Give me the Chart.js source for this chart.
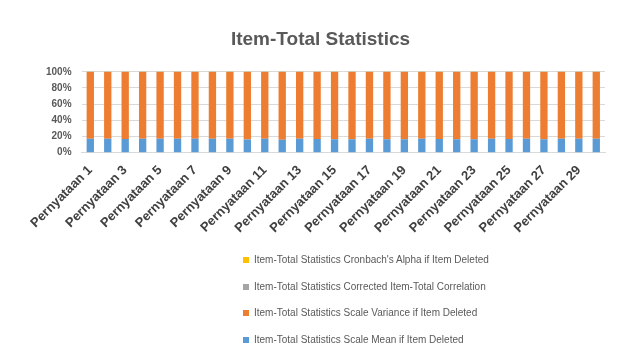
<!DOCTYPE html>
<html>
<head>
<meta charset="utf-8">
<script src="https://cdn.jsdelivr.net/npm/chart.js@4/dist/chart.umd.min.js"></script>
<style>
  html, body { margin: 0; padding: 0; background: #fff; }
  #wrap { position: relative; width: 627px; height: 354px; }
  #legend {
    position: absolute; left: 243px; top: 251px;
    font: 10px "Liberation Sans", Arial, sans-serif; color: #595959;
  }
  #legend div { height: 26.5px; line-height: 17px; white-space: nowrap; }
  #legend span.box { display: inline-block; width: 6px; height: 6px; margin-right: 5px; }
</style>
</head>
<body>
<div id="wrap">
  <canvas id="chart" width="627" height="354"></canvas>
  <div id="legend"></div>
</div>
<script>
let categories = [];
for (let i = 1; i <= 30; i++) categories.push("Pernyataan " + i);

let scaleMean = [104, 105, 104, 105, 104, 105, 104, 105, 104, 100, 104, 99, 105, 103, 102,
                 101, 104, 102, 101, 104, 103, 102, 101, 104, 103, 104, 102, 105, 104, 105];
let scaleVariance = [505, 502, 506, 503, 505, 502, 505, 503, 505, 520, 504, 522, 503, 508, 510,
                     512, 505, 510, 512, 505, 507, 510, 512, 505, 507, 505, 510, 502, 505, 502];
let correctedCorr = [0.45, 0.52, 0.48, 0.55, 0.50, 0.47, 0.53, 0.49, 0.51, 0.44, 0.56, 0.42, 0.50, 0.48, 0.46,
                     0.52, 0.49, 0.47, 0.51, 0.53, 0.48, 0.50, 0.46, 0.54, 0.49, 0.52, 0.47, 0.55, 0.50, 0.53];
let alphaDeleted = [0.91, 0.91, 0.91, 0.91, 0.91, 0.91, 0.91, 0.91, 0.91, 0.92, 0.91, 0.92, 0.91, 0.91, 0.91,
                    0.91, 0.91, 0.91, 0.91, 0.91, 0.91, 0.91, 0.91, 0.91, 0.91, 0.91, 0.91, 0.91, 0.91, 0.91];
let yTicks = [0, 0.2, 0.4, 0.6, 0.8, 1];

let seriesNames = [
  "Item-Total Statistics Scale Mean if Item Deleted",
  "Item-Total Statistics Scale Variance if Item Deleted",
  "Item-Total Statistics Corrected Item-Total Correlation",
  "Item-Total Statistics Cronbach's Alpha if Item Deleted"
];
let seriesColors = ["#5B9BD5", "#ED7D31", "#A5A5A5", "#FFC000"];
let raw = [scaleMean, scaleVariance, correctedCorr, alphaDeleted];

// 100% stacked: share of each series per category
let totals = categories.map((c, i) => raw.reduce((s, arr) => s + arr[i], 0));
let datasets = raw.map((arr, k) => ({
  label: seriesNames[k],
  data: arr.map((v, i) => v / totals[i]),
  backgroundColor: seriesColors[k],
  barPercentage: 0.42,
  categoryPercentage: 1,
  minBarLength: k >= 2 ? 1 : 0
}));

let font = "'Liberation Sans', Arial, sans-serif";

let chart = new Chart(document.getElementById("chart"), {
  type: 'bar',
  data: { labels: categories, datasets: datasets },
  options: {
    responsive: false,
    animation: false,
    layout: { padding: { left: 36, right: 22, top: 28, bottom: 116 } },
    plugins: {
      legend: { display: false },
      tooltip: { enabled: false },
      title: {
        display: true,
        text: "Item-Total Statistics",
        color: "#595959",
        font: { family: font, size: 19, weight: 'bold' },
        padding: { top: 0, bottom: 21 }
      }
    },
    scales: {
      x: {
        stacked: true,
        grid: { display: false },
        border: { color: "#D9D9D9" },
        ticks: {
          autoSkip: false,
          maxRotation: 45,
          minRotation: 45,
          padding: 2,
          color: "#404040",
          font: { family: font, size: 13, weight: 'bold' },
          callback: function (v, i) { return i % 2 === 0 ? categories[i] : ''; }
        }
      },
      y: {
        stacked: true,
        min: 0,
        max: 1,
        afterBuildTicks: axis => { axis.ticks = yTicks.map(v => ({ value: v })); },
        grid: { color: "#D9D9D9", drawTicks: false },
        border: { display: false },
        ticks: {
          padding: 10,
          color: "#595959",
          font: { family: font, size: 10, weight: 'bold' },
          callback: v => Math.round(v * 100) + "%"
        }
      }
    }
  }
});

let legend = document.getElementById("legend");
for (let k = seriesNames.length - 1; k >= 0; k--) {
  let row = document.createElement("div");
  let box = document.createElement("span");
  box.className = "box";
  box.style.background = seriesColors[k];
  row.appendChild(box);
  row.appendChild(document.createTextNode(seriesNames[k]));
  legend.appendChild(row);
}
</script>
</body>
</html>
